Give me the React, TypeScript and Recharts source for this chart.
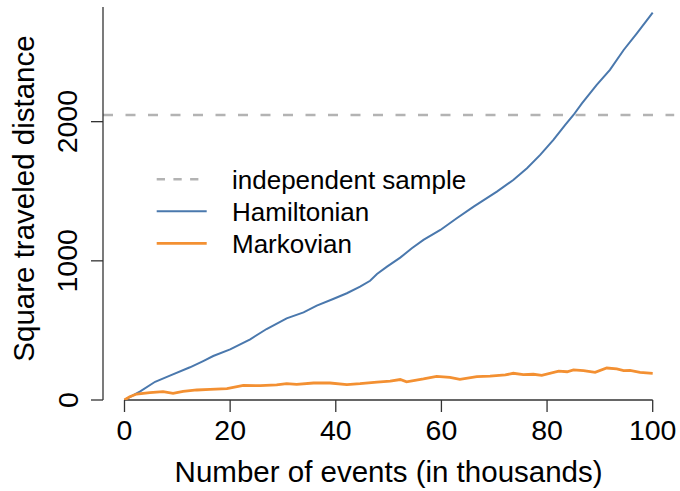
import { LineChart, Line, XAxis, YAxis, ReferenceLine, Label } from 'recharts';

// Hamiltonian curve (x in thousands of events, y = square traveled distance)
const hamX = [0, 2.9, 5.8, 8.6, 12.4, 14.9, 16.8, 20, 23.8, 26.9, 30.7, 33.9, 36.4, 39.5, 42.1, 44.6, 46.5, 47.8, 49.7, 52.2, 54.4, 56.6, 59.8, 62.9, 66.1, 70.5, 73.6, 76.2, 78.7, 81.2, 83.4, 85, 86.6, 89.4, 91.9, 94.5, 97, 100];
const hamY = [0, 60, 131, 175, 235, 280, 316, 364, 436, 510, 587, 630, 678, 726, 767, 814, 857, 905, 958, 1023, 1090, 1150, 1222, 1306, 1389, 1497, 1581, 1665, 1761, 1869, 1976, 2048, 2132, 2264, 2372, 2515, 2635, 2783];

// Markovian curve
const markX = [0, 1, 2.3, 4.8, 7.3, 9.2, 11.1, 13.7, 16.2, 19.4, 22.5, 25.7, 28.8, 30.7, 32.6, 35.8, 38.9, 42.1, 44.6, 47.8, 50.3, 52.2, 53.4, 56.6, 59.1, 61.6, 63.5, 66.7, 69.2, 72.1, 73.6, 75.5, 77.4, 79, 82.2, 83.8, 85, 86.9, 89.1, 91.3, 93.2, 94.5, 95.7, 97.6, 100];
const markY = [0, 24, 43, 53, 60, 48, 62, 72, 77, 81, 105, 103, 108, 117, 113, 122, 122, 110, 117, 129, 135, 147, 131, 151, 170, 163, 149, 168, 172, 180, 192, 182, 185, 177, 208, 203, 216, 211, 199, 230, 223, 211, 213, 199, 192];

const independentLevel = 2048;
const xTicks = [0, 20, 40, 60, 80, 100];
const yTicks = [0, 1000, 2000];
const legendLabels = ['independent sample', 'Hamiltonian', 'Markovian'];

const hamData = hamX.map((x, i) => ({ x, y: hamY[i] }));
const markData = markX.map((x, i) => ({ x, y: markY[i] }));

const FONT = '"Liberation Sans", Arial, Helvetica, sans-serif';
const BLUE = '#4a78ad';
const ORANGE = '#f39032';
const GREY = '#b3b3b3';
const AXIS = '#333333';

const XTick = ({ x, y, payload }: any) => (
  <text x={x} y={y + 26} textAnchor="middle" fontSize={28.5} fontFamily={FONT} fill="#000">
    {payload.value}
  </text>
);

const YTick = ({ x, y, payload }: any) => {
  const bx = x - 11.5;
  return (
    <text x={bx} y={y} transform={`rotate(-90 ${bx} ${y})`} textAnchor="middle" fontSize={28.5} fontFamily={FONT} fill="#000">
      {payload.value}
    </text>
  );
};

const legendRows = [
  { stroke: GREY, width: 2.5, dash: '8.3 8.4' },
  { stroke: BLUE, width: 2, dash: undefined },
  { stroke: ORANGE, width: 2.8, dash: undefined }
];

export default function App() {
  return (
    <div style={{ position: 'relative', width: 680, height: 491 }}>
      <style>{'body{margin:0}'}</style>
      <LineChart width={680} height={491} margin={{ top: 7, right: 5.8, bottom: 0, left: 0 }}>
        <XAxis
          type="number"
          dataKey="x"
          domain={[-4.07, 104.07]}
          ticks={xTicks}
          axisLine={false}
          tickLine={{ stroke: AXIS, strokeWidth: 1.3 }}
          tickSize={12}
          tick={<XTick />}
          height={91}
          allowDataOverflow
        >
          <Label
            content={() => (
              <text x={388.6} y={482} textAnchor="middle" fontSize={29.5} fontFamily={FONT} fill="#000">
                Number of events (in thousands)
              </text>
            )}
          />
        </XAxis>
        <YAxis
          type="number"
          domain={[0, 2824]}
          ticks={yTicks}
          width={103}
          axisLine={{ stroke: AXIS, strokeWidth: 1.3 }}
          tickLine={{ stroke: AXIS, strokeWidth: 1.3 }}
          tickSize={12}
          tick={<YTick />}
          allowDataOverflow
        >
          <Label
            content={() => (
              <text x={33.5} y={198.5} transform="rotate(-90 33.5 198.5)" textAnchor="middle" fontSize={29.5} fontFamily={FONT} fill="#000">
                Square traveled distance
              </text>
            )}
          />
        </YAxis>
        <ReferenceLine
          segment={[{ x: 0, y: 0 }, { x: 100, y: 0 }]}
          stroke={AXIS}
          strokeWidth={1.3}
        />
        <ReferenceLine y={independentLevel} stroke={GREY} strokeWidth={2.5} strokeDasharray="10 12.5" />
        <Line data={hamData} dataKey="y" type="linear" stroke={BLUE} strokeWidth={2} dot={false} isAnimationActive={false} />
        <Line data={markData} dataKey="y" type="linear" stroke={ORANGE} strokeWidth={2.8} dot={false} isAnimationActive={false} />
      </LineChart>
      <svg width={360} height={100} style={{ position: 'absolute', left: 150, top: 160 }}>
        {legendLabels.map((label, i) => {
          const cy = 19.3 + i * 32;
          const row = legendRows[i];
          return (
            <g key={label}>
              <line x1={6.7} x2={56.7} y1={cy} y2={cy} stroke={row.stroke} strokeWidth={row.width} strokeDasharray={row.dash} />
              <text x={82} y={cy + 9.5} fontSize={26} fontFamily={FONT} fill="#000">
                {label}
              </text>
            </g>
          );
        })}
      </svg>
    </div>
  );
}
